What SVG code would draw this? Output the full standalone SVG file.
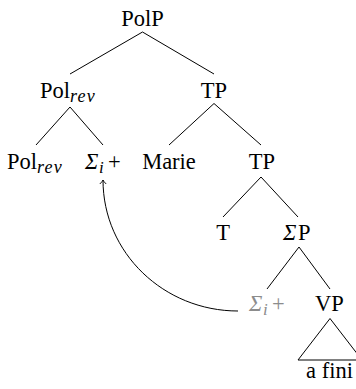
<svg xmlns="http://www.w3.org/2000/svg" width="356" height="389" viewBox="0 0 356 389">
<style>
text{font-family:"Liberation Serif","Times New Roman",serif;font-size:22.5px;fill:#000}
.it{font-style:italic}
.sub{font-size:17px;font-style:italic}
.rev{font-size:18px;font-style:italic;letter-spacing:1.2px}
.gray text{fill:#8c8c8c}
.edge{stroke:#000;stroke-width:1;fill:none}
</style>
<defs>
<marker id="arr" markerUnits="userSpaceOnUse" markerWidth="12" markerHeight="12" viewBox="-6 -6 12 12" refX="0" refY="0" orient="auto" overflow="visible">
<path d="M-4,-3.2 Q-1.5,-0.6 0,0 Q-1.5,0.6 -4,3.2" fill="none" stroke="#000" stroke-width="0.9"/>
</marker>
</defs>
<rect width="356" height="389" fill="#fff"/>
<g id="connectors">
<path class="edge" d="M142.5,32 L70,74 M142.5,32 L214,74"/>
<path class="edge" d="M70,107 L36,145 M70,107 L103,145"/>
<path class="edge" d="M214,103.5 L169,145 M214,103.5 L261,145"/>
<path class="edge" d="M261,177 L223,217 M261,177 L298,217"/>
<path class="edge" d="M299,247 L267,289 M299,247 L330,289"/>
<path class="edge" d="M330,318.5 L298,360 L362,360 Z"/>
<path class="edge" d="M238,311 C164,311 103,253 103,180" marker-end="url(#arr)"/>
</g>
<g id="PolP"><text x="142.5" y="26" text-anchor="middle">PolP</text></g>
<g id="Polrev1"><text x="40" y="98">Pol</text><text class="rev" x="70" y="102">rev</text></g>
<g id="TP1"><text x="214" y="98" text-anchor="middle">TP</text></g>
<g id="Polrev2"><text x="7" y="169">Pol</text><text class="rev" x="37" y="173">rev</text></g>
<g id="Sigma1"><text class="it" x="85" y="169">Σ</text><text class="sub" x="99" y="173">i</text><text x="108" y="169">+</text></g>
<g id="Marie"><text x="169" y="169" text-anchor="middle">Marie</text></g>
<g id="TP2"><text x="262" y="169" text-anchor="middle">TP</text></g>
<g id="T"><text x="223" y="240" text-anchor="middle">T</text></g>
<g id="SigmaP"><text class="it" x="283" y="240">Σ</text><text x="298" y="240">P</text></g>
<g id="Sigma2" class="gray"><text class="it" x="249" y="311">Σ</text><text class="sub" x="263" y="315">i</text><text x="272" y="311">+</text></g>
<g id="VP"><text x="329.5" y="311" text-anchor="middle">VP</text></g>
<g id="afini"><text x="329.5" y="378" text-anchor="middle">a fini</text></g>
</svg>
